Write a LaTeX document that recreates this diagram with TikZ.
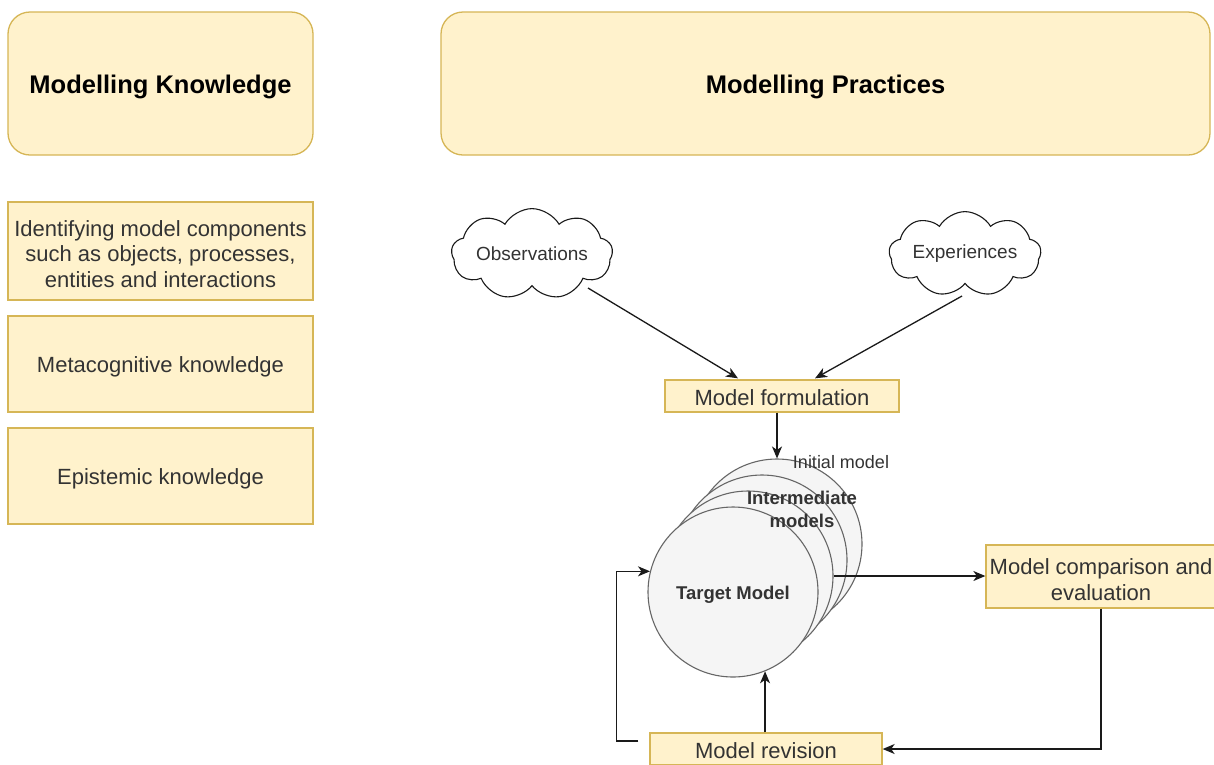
\documentclass[tikz,border=0pt]{standalone}
\usepackage{fontspec}
\setmainfont{Liberation Sans}
\usetikzlibrary{shapes.symbols,arrows.meta,calc}
\definecolor{boxfill}{HTML}{FFF2CC}
\definecolor{boxline}{HTML}{D6B656}
\definecolor{circfill}{HTML}{F5F5F5}
\definecolor{circline}{HTML}{666666}
\definecolor{txt}{HTML}{333333}
\definecolor{wire}{HTML}{1A1A1A}

\begin{document}
\begin{tikzpicture}[x=1pt,y=-1pt,
  base/.style={draw=boxline,fill=boxfill,line width=1.3pt,inner sep=0pt},
  titlebox/.style={base,rounded corners=22pt,minimum height=143pt},
  titletext/.style={inner sep=0pt,yshift=-3pt,font=\fontsize{25.5}{30}\selectfont\bfseries,text=black},
  kbox/.style={base,minimum width=305pt},
  pbox/.style={base},
  boxtext/.style={inner sep=0pt,align=center,yshift=-3pt,font=\fontsize{22}{25.5}\selectfont,text=txt},
  stage/.style={circle,draw=circline,fill=circfill,line width=1.1pt,minimum size=170pt,inner sep=0pt},
  idea/.style={cloud,cloud puffs=9,cloud puff arc=120,aspect=2.5,draw=wire,fill=white,
    line width=1.1pt,minimum width=152pt,minimum height=58pt,inner sep=0pt,
    font=\fontsize{19}{22}\selectfont,text=txt},
  lbl/.style={inner sep=0pt,align=center,text=txt},
  arr/.style={draw=wire,line width=1.3pt,-{Stealth[length=12pt,width=10pt,inset=3.5pt]}}]

\useasboundingbox (0,0) rectangle (1214,764);
\fill[white] (0,0) rectangle (1214,764);

% headers
\node[titlebox,minimum width=305pt,label={[titletext]center:Modelling Knowledge}] (mk) at (160.5,83.5) {};
\node[titlebox,minimum width=769pt,label={[titletext]center:Modelling Practices}] (mp) at (825.5,83.5) {};

% knowledge column
\node[kbox,minimum height=98pt,
  label={[boxtext]center:{Identifying model components\\such as objects, processes,\\entities and interactions}}] (k1) at (160.5,251) {};
\node[kbox,minimum height=96pt,label={[boxtext]center:Metacognitive knowledge}] (k2) at (160.5,364) {};
\node[kbox,minimum height=96pt,label={[boxtext]center:Epistemic knowledge}] (k3) at (160.5,476) {};

% sources
\node[idea] (obs) at (532,254) {Observations};
\node[idea] (exp) at (965,254) {Experiences};

% practice steps
\node[pbox,minimum width=234pt,minimum height=32pt,label={[boxtext,yshift=1pt]center:Model formulation}] (form) at (782,396) {};
\node[pbox,minimum width=230pt,minimum height=63pt,
  label={[boxtext]center:{Model comparison and\\evaluation}}] (comp) at (1101,576.5) {};
\node[pbox,minimum width=232pt,minimum height=32pt,label={[boxtext,yshift=1pt]center:Model revision}] (rev) at (766,749) {};

% stack of models, back to front
\node[stage] (m0) at (777,544) {};
\node[stage] (m1) at (762,560) {};
\node[stage] (m2) at (748,576) {};
\node[stage] (tgt) at (733,592) {};
\node[lbl,font=\fontsize{18}{21}\selectfont] (lini) at (841,462) {Initial model};
\node[lbl,font=\fontsize{18.5}{23}\selectfont\bfseries] (lint) at (802,509) {Intermediate\\models};
\node[lbl,font=\fontsize{18.5}{22}\selectfont\bfseries] (ltgt) at (733,595) {Target Model};

% connectors
\draw[arr] ($(obs.center)+(56,34)$) -- ($(form.north)+(-44,-1)$);
\draw[arr] ($(exp.center)+(-3,42)$) -- ($(form.north)+(33,-1)$);
\draw[arr] (form.south -| m0.north) -- (m0.north);
\draw[arr] (m2.east) -- (comp.west |- m2.east);
\draw[arr] (comp.south) |- (rev.east);
\draw[arr] (rev.north -| tgt.-68) -- (tgt.-68);
\draw[arr] ($(rev.west)+(-11,-8)$) -- ++(-22,0) |- (tgt.166);

\end{tikzpicture}
\end{document}
